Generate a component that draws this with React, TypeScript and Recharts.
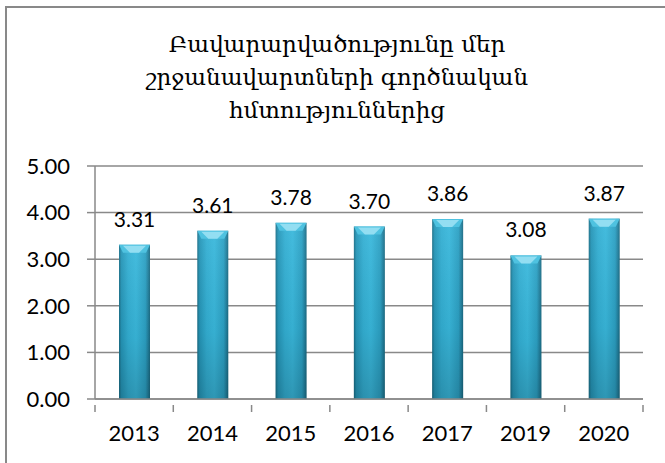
import { Bar, BarChart, CartesianGrid, LabelList, XAxis, YAxis } from "recharts";

const YEARS = ["2013", "2014", "2015", "2016", "2017", "2019", "2020"];
const SCORES = [3.31, 3.61, 3.78, 3.7, 3.86, 3.08, 3.87];
const Y_TICKS = [0, 1, 2, 3, 4, 5];
const TITLE_LINES = [
  "Բավարարվածությունը մեր",
  "շրջանավարտների գործնական",
  "հմտություններից",
];

const GRID = "#898989";
const AXIS_FONT = "Lato, 'Open Sans', sans-serif";

const data = YEARS.map((year, i) => ({ year, value: SCORES[i] }));

// cylinder-ish bar like the Excel preset: dark edges, light middle, bevelled top
function CylBar(props: any) {
  const { x, y, width, height } = props;
  if (!height || height <= 0) return null;
  const cap = Math.min(8, height);
  return (
    <g>
      <rect x={x} y={y} width={width} height={height} fill="url(#barBody)" />
      <rect x={x} y={y} width={width} height={height} fill="url(#barShade)" />
      <polygon
        points={`${x},${y} ${x + width},${y} ${x + width - 4},${y + cap} ${x + 4},${y + cap}`}
        fill="#4fc2e0"
      />
      <polygon
        points={`${x + 4},${y + 1} ${x + width - 4},${y + 1} ${x + width - 11},${y + cap} ${x + 11},${y + cap}`}
        fill="#93def2"
      />
    </g>
  );
}

function YearTick(props: any) {
  const { x, y, payload, width, visibleTicksCount, index } = props;
  const step = width && visibleTicksCount ? width / visibleTicksCount : 0;
  return (
    <g>
      {step > 0 && (
        <line x1={x - step / 2} x2={x - step / 2} y1={y - 2} y2={y + 5} stroke={GRID} strokeWidth={1.5} />
      )}
      {step > 0 && index === visibleTicksCount - 1 && (
        <line x1={x + step / 2} x2={x + step / 2} y1={y - 2} y2={y + 5} stroke={GRID} strokeWidth={1.5} />
      )}
      <text x={x} y={y + 34} textAnchor="middle" fill="#000" fontSize={22} fontFamily={AXIS_FONT}>
        {payload.value}
      </text>
    </g>
  );
}

export default function App() {
  return (
    <div
      style={{
        position: "absolute",
        left: 0,
        top: 0,
        width: 665,
        height: 463,
        overflow: "hidden",
        background: "#fff",
      }}
    >
      <svg width={0} height={0} style={{ position: "absolute" }}>
        <defs>
          <linearGradient id="barBody" x1="0" y1="0" x2="1" y2="0">
            <stop offset="0%" stopColor="#1a6f88" />
            <stop offset="8%" stopColor="#2596b8" />
            <stop offset="30%" stopColor="#33afd3" />
            <stop offset="55%" stopColor="#39b8dc" />
            <stop offset="85%" stopColor="#2ca1c4" />
            <stop offset="94%" stopColor="#22819f" />
            <stop offset="100%" stopColor="#1a6a82" />
          </linearGradient>
          <linearGradient id="barShade" x1="0" y1="0" x2="0" y2="1">
            <stop offset="0%" stopColor="#ffffff" stopOpacity={0.06} />
            <stop offset="60%" stopColor="#000000" stopOpacity={0.05} />
            <stop offset="100%" stopColor="#000000" stopOpacity={0.18} />
          </linearGradient>
        </defs>
      </svg>
      <div
        style={{
          position: "absolute",
          left: 5,
          top: 6,
          width: 700,
          height: 500,
          borderTop: `2px solid ${GRID}`,
          borderLeft: `2px solid ${GRID}`,
        }}
      />
      <div
        style={{
          position: "absolute",
          left: 0,
          top: 28,
          width: 674,
          textAlign: "center",
          fontFamily: "'DejaVu Serif', serif",
          fontSize: 23,
          lineHeight: "33px",
          color: "#000",
        }}
      >
        {TITLE_LINES.map((line) => (
          <div key={line}>{line}</div>
        ))}
      </div>
      <BarChart
        width={665}
        height={463}
        data={data}
        margin={{ top: 166, right: 22, bottom: 24, left: 0 }}
        style={{ position: "absolute", left: 0, top: 0 }}
      >
        <CartesianGrid vertical={false} stroke={GRID} strokeWidth={1.5} />
        <XAxis
          dataKey="year"
          height={40}
          axisLine={{ stroke: GRID, strokeWidth: 1.5 }}
          tickLine={false}
          tick={<YearTick />}
          interval={0}
        />
        <YAxis
          width={95}
          domain={[0, 5]}
          ticks={Y_TICKS}
          tickFormatter={(v: number) => v.toFixed(2)}
          axisLine={{ stroke: GRID, strokeWidth: 1.5 }}
          tickLine={{ stroke: GRID, strokeWidth: 1.5 }}
          tickSize={8}
          tickMargin={17}
          tick={{ fill: "#000", fontSize: 22, fontFamily: AXIS_FONT }}
        />
        <Bar dataKey="value" barSize={31} shape={<CylBar />} isAnimationActive={false}>
          <LabelList
            dataKey="value"
            position="top"
            offset={18}
            formatter={(v: any) => Number(v).toFixed(2)}
            fill="#000"
            fontSize={21}
            fontFamily={AXIS_FONT}
          />
        </Bar>
      </BarChart>
    </div>
  );
}
